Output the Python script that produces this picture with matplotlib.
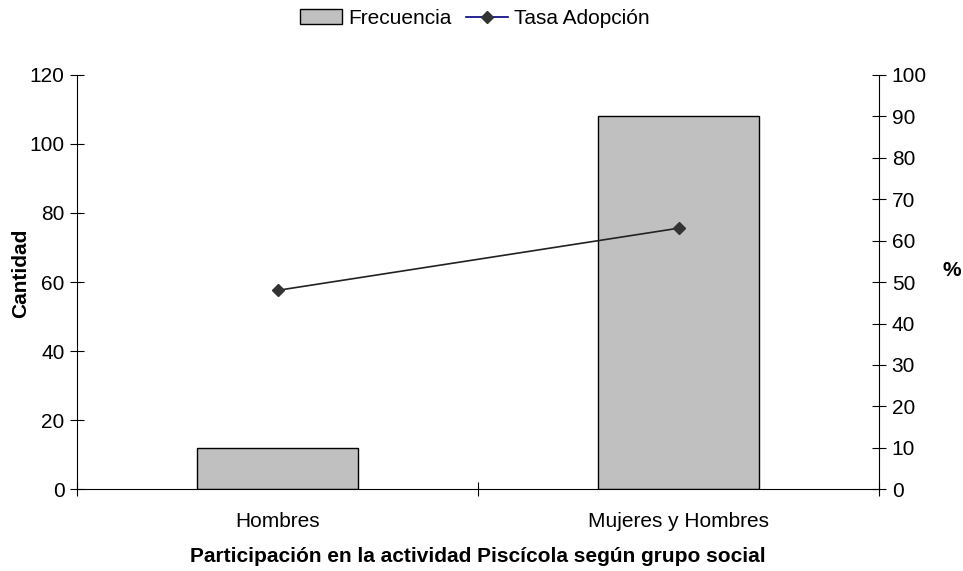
import matplotlib.pyplot as plt
from matplotlib.patches import Patch
from matplotlib.lines import Line2D

plt.rcParams['font.family'] = ['Liberation Sans', 'DejaVu Sans']

categories = ['Hombres', 'Mujeres y Hombres']
frecuencia = [12, 108]
tasa_adopcion = [48, 63]

FS = 15

fig, ax = plt.subplots(figsize=(9.63, 5.71), dpi=100)
fig.subplots_adjust(left=0.08, right=0.913, top=0.869, bottom=0.143)

x = range(len(categories))
ax.bar(x, frecuencia, width=0.4, color='#c0c0c0', edgecolor='black', linewidth=1.0, zorder=2)
ax.set_xlim(-0.5, 1.5)
ax.set_ylim(0, 120)
ax.set_yticks(range(0, 121, 20))
ax.set_xticks([-0.5, 0.5, 1.5])
ax.set_xticklabels([])
ax.set_xticks(list(x), minor=True)
ax.set_xticklabels(categories, minor=True)
ax.tick_params(axis='x', which='minor', length=0, pad=16, labelsize=FS)
ax.tick_params(axis='x', which='major', direction='inout', length=10, width=0.8)
ax.tick_params(axis='y', direction='inout', length=10, width=0.8, labelsize=FS, pad=4)
for s in ['top', 'right']:
    ax.spines[s].set_visible(False)
ax.set_ylabel('Cantidad', fontsize=FS, fontweight='bold')
ax.yaxis.set_label_coords(-0.058, 0.52)
ax.set_xlabel('Participación en la actividad Piscícola según grupo social',
              fontsize=FS, fontweight='bold')
ax.xaxis.set_label_coords(0.5, -0.138)

ax2 = ax.twinx()
ax2.plot(list(x), tasa_adopcion, color='#222222', linewidth=1.2, marker='D',
         markersize=6, markerfacecolor='#333333', markeredgecolor='#333333')
ax2.set_ylim(0, 100)
ax2.set_yticks(range(0, 101, 10))
ax2.tick_params(axis='y', direction='inout', length=10, width=0.8, labelsize=FS, pad=4)
for s in ['top', 'left', 'bottom']:
    ax2.spines[s].set_visible(False)
ax2.set_ylabel('%', fontsize=FS, fontweight='bold', rotation=0, va='center', ha='center')
ax2.yaxis.set_label_coords(1.09, 0.529)

handles = [
    Patch(facecolor='#c0c0c0', edgecolor='black', linewidth=1.0),
    Line2D([0], [0], color='navy', linewidth=1.2, marker='D', markersize=6,
           markerfacecolor='#333333', markeredgecolor='#333333'),
]
fig.legend(handles, ['Frecuencia', 'Tasa Adopción'], loc='upper center',
           bbox_to_anchor=(0.493, 1.017), ncol=2, frameon=False, fontsize=FS,
           handlelength=2.0, handletextpad=0.3, columnspacing=0.7)

fig.savefig('out.png', dpi=100)
